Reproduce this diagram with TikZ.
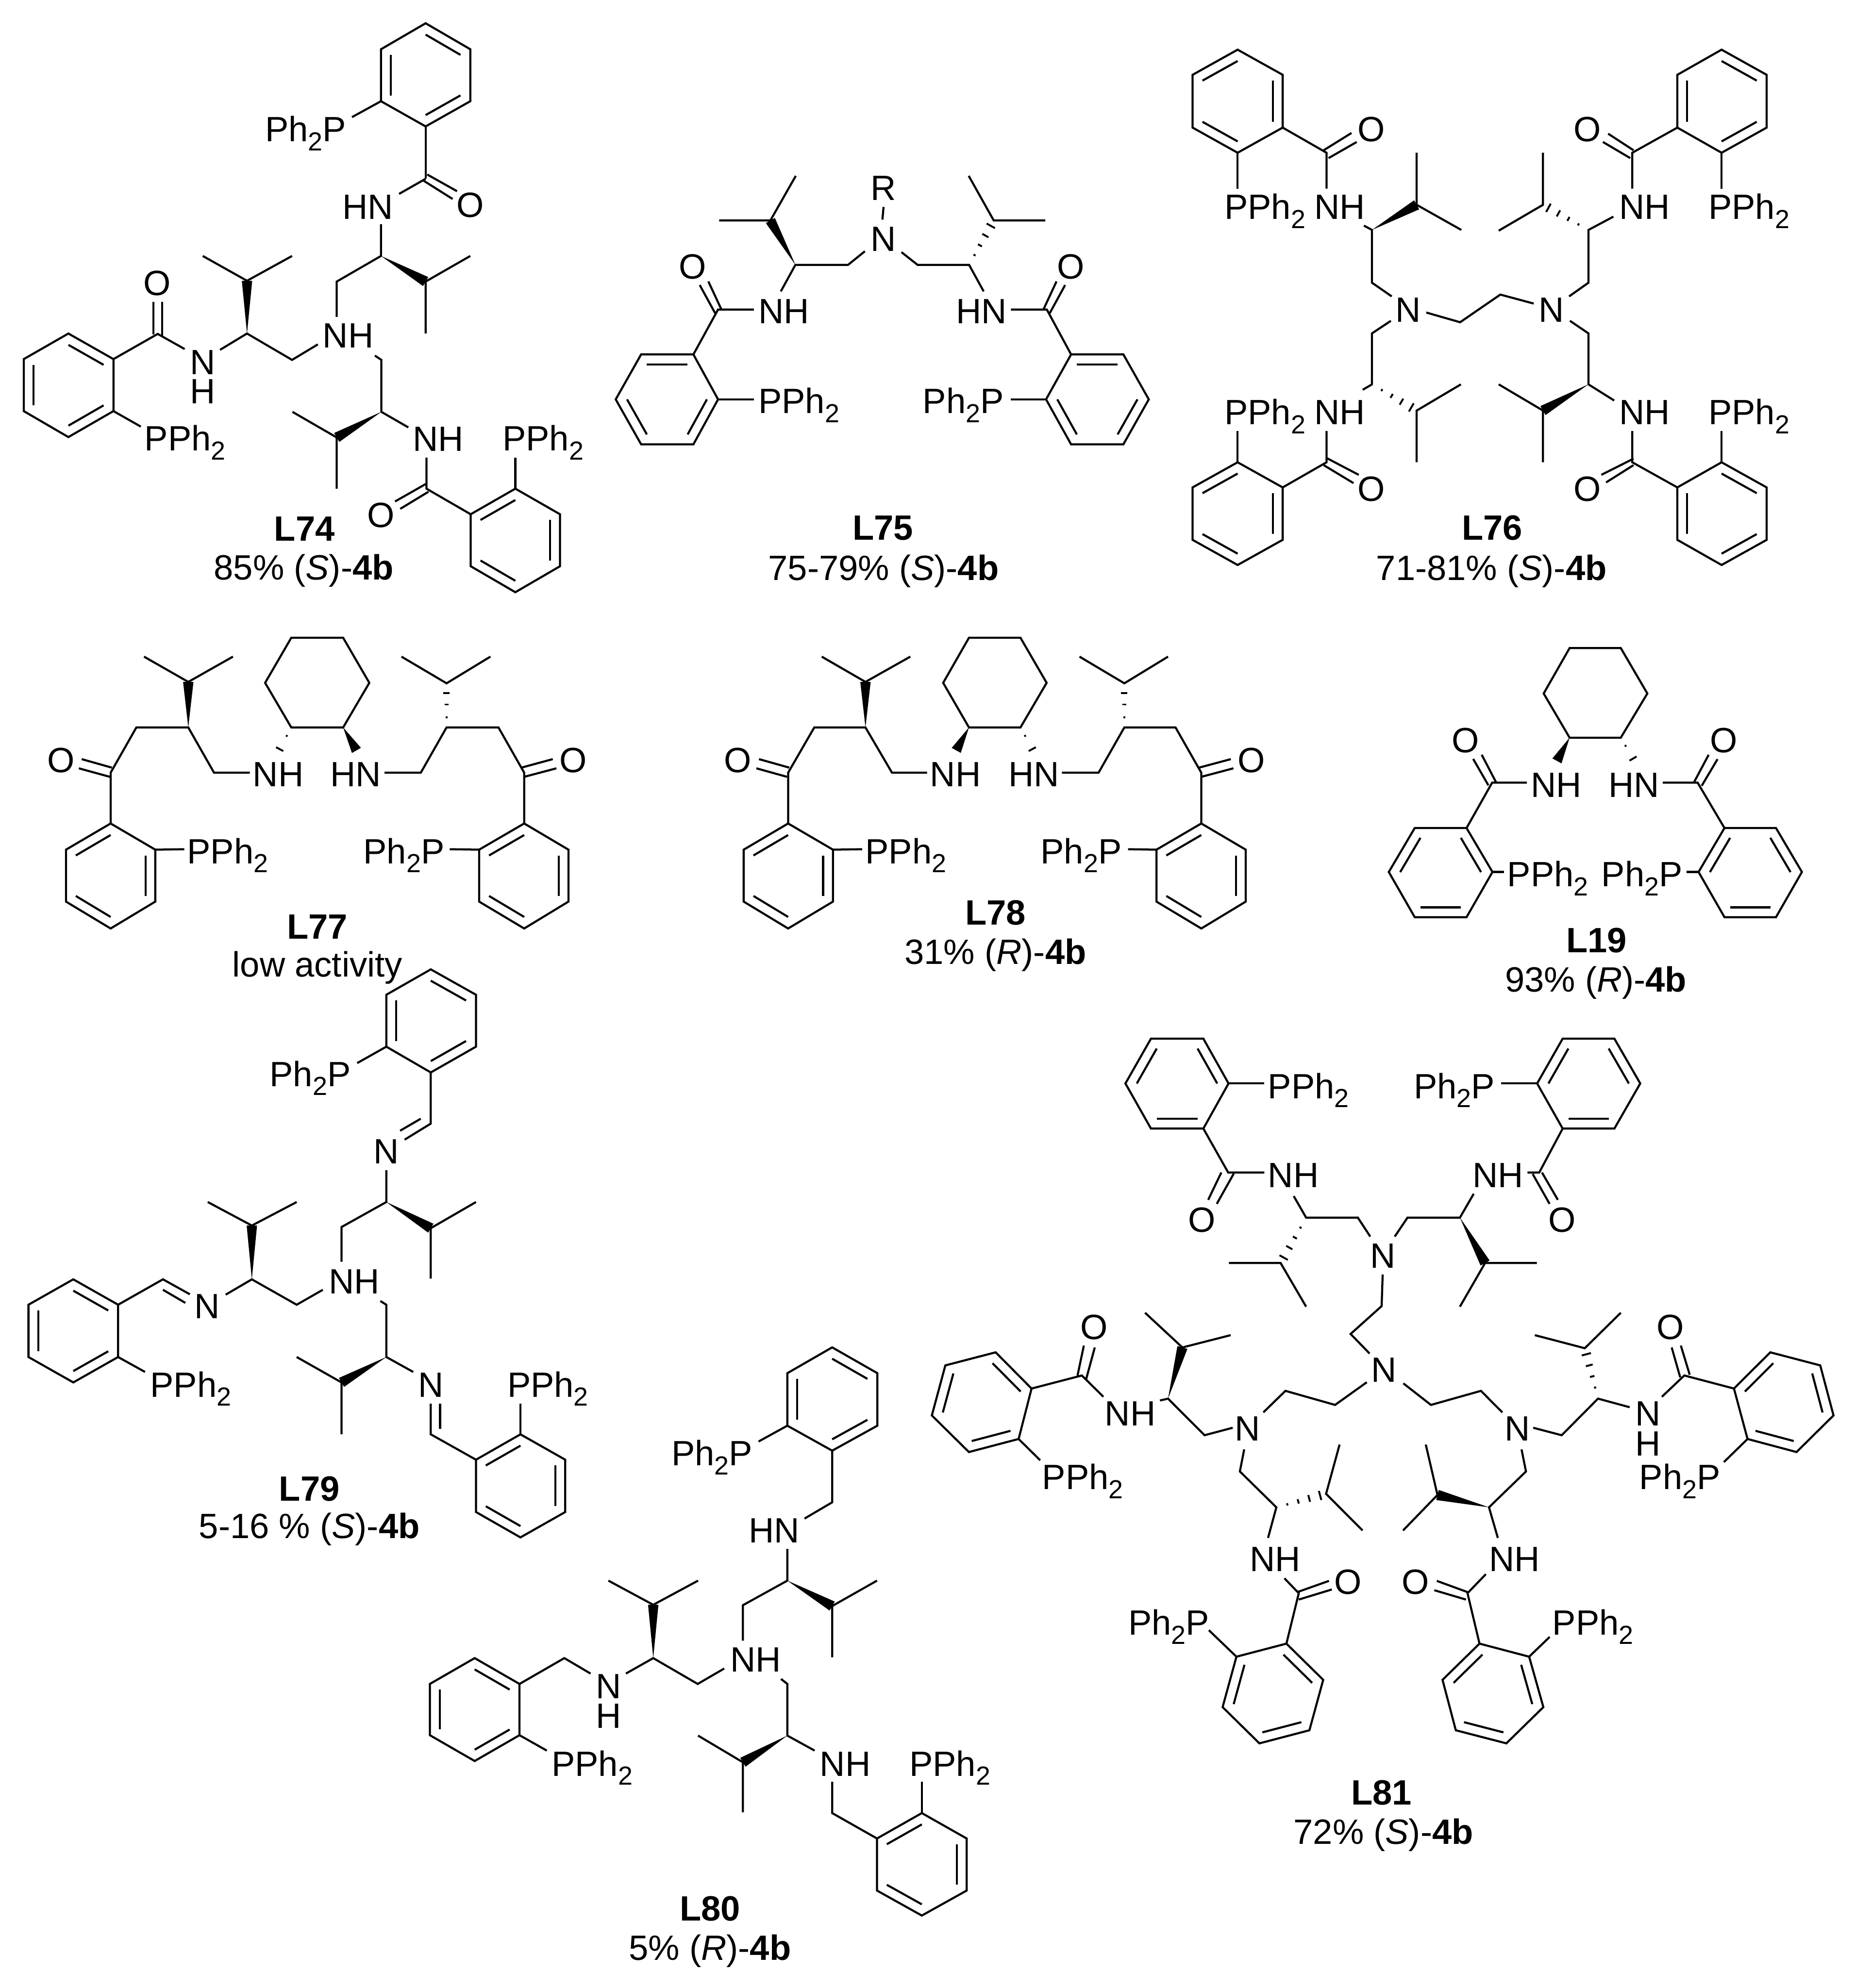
\documentclass[tikz,border=0pt]{standalone}
\usepackage{fontspec}
\setmainfont{Liberation Sans}
\usetikzlibrary{calc}
\newcounter{lblno}
\newcommand\tw{\raisebox{-2pt}{\fontsize{5.8}{6}\selectfont 2}}
\newcommand\pph{PPh\tw}
\newcommand\php{Ph\tw P}
\tikzset{
  bond/.style={line width=0.46pt,line join=miter,line cap=butt},
  hashl/.style={line width=0.42pt},
  atom/.style={anchor=base west,inner sep=0pt,outer sep=0pt,xshift=-0.5pt,font=\fontsize{7.8}{9}\selectfont},
  capt/.style={anchor=base,inner sep=0pt,outer sep=0pt,font=\fontsize{7.8}{9}\selectfont},
  crop/.style n args={4}{shift={(#1*0.1pt,-#2*0.1pt)},x={0.1pt*#3/1568},y={-0.1pt*#4/1568}},
}
\newcommand\ring[6]{%
  \draw[bond] (#1)--(#2)--(#3)--(#4)--(#5)--(#6)--cycle;
  \coordinate (rc) at ($(#1)!.5!(#4)$);
  \draw[bond] ($(#1)!.22!(rc)$)--($(#2)!.22!(rc)$);
  \draw[bond] ($(#3)!.22!(rc)$)--($(#4)!.22!(rc)$);
  \draw[bond] ($(#5)!.22!(rc)$)--($(#6)!.22!(rc)$);
}
\newcommand\lbl[3]{\stepcounter{lblno}\node[atom] (a\thelblno) at (#1,#2) {#3};}
\newcommand\capl[3]{\stepcounter{lblno}\node[capt] (a\thelblno) at (#1,#2) {#3};}
\newcommand\wdg[2]{\fill[black] (#1)--($(#2)!1.15pt!90:(#1)$)--($(#2)!1.15pt!-90:(#1)$)--cycle;}
\def\hfour{.22/.25,.44/.5,.66/.78,.88/1.05}
\def\hthree{.23/.2,.52/.42,.78/.7}
\def\htwo{.35/.2,.9/.9}
\newcommand\hsh[3]{\foreach \t/\h in #3 {\draw[hashl] ($(#1)!\t!(#2)!\h pt!90:(#2)$)--($(#1)!\t!(#2)!\h pt!-90:(#2)$);}}
\begin{document}
\begin{tikzpicture}
\useasboundingbox (0,0) rectangle (411.6pt,-441.3pt);
\fill[white] (0,0) rectangle (411.6pt,-441.3pt);

% ===== L74
\begin{scope}[crop={0}{0}{1400}{1350}]
\ring{1058,60}{1169,127}{1169,261}{1058,326}{947,261}{947,127}
\draw[bond] (947,261)--(875,302);
\lbl{665}{365}{\php}
\draw[bond] (1058,326)--(1058,461);
\draw[bond] (1062,450)--(1136,493);
\draw[bond] (1053,466)--(1125,513);
\draw[bond] (1058,461)--(992,500);
\lbl{1140}{560}{O}
\lbl{857}{565}{HN}
\draw[bond] (947,578)--(947,660)--(837,726)--(837,817);
\wdg{947,660}{1058,726}
\draw[bond] (1169,660)--(1058,726)--(1058,860);
\lbl{808}{897}{NH}
\draw[bond] (790,888)--(726,928)--(614,860)--(547,902);
\wdg{614,860}{614,724}
\draw[bond] (504,660)--(614,724)--(726,660);
\lbl{478}{965}{N}
\lbl{478}{1040}{H}
\draw[bond] (459,900)--(392,861)--(282,926);
\draw[bond] (381,778)--(381,862);
\draw[bond] (403,778)--(403,866);
\lbl{362}{762}{O}
\ring{282,926}{170,860}{59,926}{59,1060}{170,1127}{282,1060}
\draw[bond] (282,1060)--(350,1100);
\lbl{365}{1162}{\pph}
\draw[bond] (932,917)--(948,928)--(948,1062)--(1015,1102);
\wdg{948,1062}{837,1128}
\draw[bond] (727,1062)--(837,1128)--(837,1260);
\lbl{1032}{1163}{NH}
\draw[bond] (1060,1180)--(1060,1260)--(1170,1326);
\draw[bond] (1060,1247)--(982,1293);
\draw[bond] (1065,1268)--(995,1312);
\lbl{918}{1360}{O}
\ring{1170,1326}{1281,1260}{1392,1326}{1392,1460}{1281,1527}{1170,1460}
\draw[bond] (1281,1260)--(1281,1180);
\lbl{1255}{1162}{\pph}
\capl{757}{1395}{\textbf{L74}}
\capl{755}{1495}{85\% (\textit{S})-\textbf{4b}}
\end{scope}

% ===== L75
\begin{scope}[crop={1300}{300}{1300}{1050}]
\draw[bond] (357,283)--(494,283)--(562,135);
\wdg{561,430}{494,283}
\draw[bond] (522,518)--(561,430)--(702,430)--(747,385);
\lbl{768}{385}{N}
\lbl{768}{215}{R}
\draw[bond] (797,238)--(794,280);
\draw[bond] (845,388)--(888,430)--(1026,430)--(1065,518);
\hsh{1026,430}{1092,283}{\hfour}
\draw[bond] (1025,135)--(1092,283)--(1230,283);
\lbl{997}{625}{HN}
\draw[bond] (1138,578)--(1234,578)--(1299,727);
\draw[bond] (1225,578)--(1260,485);
\draw[bond] (1242,590)--(1283,497);
\lbl{1268}{477}{O}
\ring{1299,727}{1439,727}{1507,876}{1439,1025}{1299,1025}{1232,876}
\draw[bond] (1232,876)--(1137,876);
\lbl{908}{922}{\php}
\lbl{468}{625}{NH}
\draw[bond] (450,578)--(354,578)--(288,727);
\draw[bond] (363,578)--(328,485);
\draw[bond] (346,590)--(305,497);
\lbl{255}{477}{O}
\ring{288,727}{148,727}{80,876}{148,1025}{288,1025}{354,876}
\draw[bond] (354,876)--(450,876);
\lbl{468}{922}{\pph}
\capl{795}{1342}{\textbf{L75}}
\capl{797}{1475}{75-79\% (\textit{S})-\textbf{4b}}
\end{scope}

% ===== L76
\begin{scope}[crop={2600}{80}{1400}{1250}]
\ring{164,38}{52,108}{52,255}{164,325}{276,255}{276,108}
\draw[bond] (164,325)--(164,425);
\lbl{137}{510}{\pph}
\draw[bond] (276,255)--(385,325)--(385,425);
\draw[bond] (378,318)--(447,270);
\draw[bond] (390,340)--(460,295);
\lbl{468}{293}{O}
\lbl{360}{510}{NH}
\draw[bond] (478,528)--(498,540)--(498,687)--(547,725);
\wdg{498,540}{609,470}
\draw[bond] (609,325)--(609,470)--(720,540);
\lbl{562}{797}{N}
\draw[bond] (633,770)--(717,797)--(817,720)--(900,745);
\lbl{918}{797}{N}
\draw[bond] (988,725)--(1036,687)--(1036,540)--(1098,503);
\lbl{1118}{510}{NH}
\hsh{1036,540}{923,470}{\hfour}
\draw[bond] (923,325)--(923,470)--(813,542);
\draw[bond] (1145,425)--(1145,325)--(1257,255);
\draw[bond] (1148,318)--(1085,272);
\draw[bond] (1140,340)--(1072,295);
\lbl{1005}{293}{O}
\ring{1367,38}{1479,108}{1479,255}{1367,325}{1257,255}{1257,108}
\draw[bond] (1367,325)--(1367,425);
\lbl{1340}{510}{\pph}
\draw[bond] (545,793)--(498,828)--(498,970)--(475,985);
\hsh{498,970}{609,1043}{\hfour}
\draw[bond] (719,970)--(609,1043)--(609,1187);
\lbl{360}{1082}{NH}
\lbl{137}{1082}{\pph}
\draw[bond] (385,1100)--(385,1187)--(276,1257);
\draw[bond] (164,1100)--(164,1187);
\ring{164,1187}{52,1257}{52,1403}{164,1473}{276,1403}{276,1257}
\draw[bond] (385,1175)--(465,1222);
\draw[bond] (378,1195)--(452,1245);
\lbl{468}{1295}{O}
\draw[bond] (990,793)--(1036,828)--(1036,970)--(1100,1015);
\wdg{1036,970}{923,1043}
\draw[bond] (813,970)--(923,1043)--(923,1187);
\lbl{1118}{1082}{NH}
\draw[bond] (1145,1100)--(1145,1187)--(1257,1257);
\draw[bond] (1148,1177)--(1068,1222);
\draw[bond] (1148,1195)--(1080,1243);
\lbl{1005}{1295}{O}
\ring{1367,1187}{1479,1257}{1479,1403}{1367,1473}{1257,1403}{1257,1257}
\draw[bond] (1367,1187)--(1367,1100);
\lbl{1340}{1082}{\pph}
\capl{797}{1403}{\textbf{L76}}
\capl{795}{1515}{71-81\% (\textit{S})-\textbf{4b}}
\end{scope}

% ===== L77
\begin{scope}[crop={50}{1380}{1400}{800}]
\draw[bond] (668,70)--(797,70)--(862,266)--(797,460)--(668,460)--(603,266)--cycle;
\wdg{797,460}{830,560}
\hsh{668,460}{636,565}{\htwo}
\draw[bond] (302,152)--(412,262)--(523,152);
\wdg{412,460}{412,262}
\draw[bond] (219,878)--(219,657)--(283,460)--(412,460)--(476,657)--(565,657);
\lbl{578}{717}{NH}
\draw[bond] (222,635)--(147,598);
\draw[bond] (217,675)--(140,638);
\lbl{67}{655}{O}
\ring{219,878}{108,992}{108,1218}{219,1335}{330,1218}{330,992}
\draw[bond] (330,992)--(402,990);
\lbl{415}{1052}{\pph}
\lbl{771}{717}{HN}
\draw[bond] (900,657)--(990,657)--(1054,460)--(1183,460)--(1247,657)--(1247,878);
\hsh{1054,460}{1054,268}{\hthree}
\draw[bond] (942,152)--(1054,268)--(1163,152);
\draw[bond] (1240,635)--(1318,598);
\draw[bond] (1247,675)--(1327,638);
\lbl{1340}{655}{O}
\ring{1247,878}{1135,992}{1135,1218}{1247,1335}{1357,1218}{1357,992}
\draw[bond] (1135,992)--(1062,990);
\lbl{853}{1052}{\php}
\capl{733}{1380}{\textbf{L77}}
\capl{733}{1545}{low activity}
\end{scope}

% ===== L78
\begin{scope}[crop={1550}{1380}{1300}{800}]
\draw[bond] (724,70)--(862,70)--(932,266)--(862,460)--(724,460)--(655,266)--cycle;
\wdg{724,460}{690,560}
\hsh{862,460}{897,565}{\htwo}
\draw[bond] (330,152)--(447,262)--(567,152);
\wdg{447,460}{447,262}
\draw[bond] (240,878)--(240,657)--(310,460)--(447,460)--(518,657)--(612,657);
\lbl{626}{717}{NH}
\lbl{836}{717}{HN}
\draw[bond] (973,657)--(1071,657)--(1140,460)--(1277,460)--(1346,657)--(1346,878);
\hsh{1140,460}{1140,268}{\hthree}
\draw[bond] (1020,152)--(1140,268)--(1257,152);
\draw[bond] (243,635)--(162,598);
\draw[bond] (237,675)--(155,638);
\lbl{75}{655}{O}
\ring{240,878}{121,992}{121,1218}{240,1335}{360,1218}{360,992}
\draw[bond] (360,992)--(438,990);
\lbl{453}{1052}{\pph}
\draw[bond] (1340,635)--(1425,598);
\draw[bond] (1346,675)--(1432,638);
\lbl{1450}{655}{O}
\ring{1346,878}{1226,992}{1226,1218}{1346,1335}{1465,1218}{1465,992}
\draw[bond] (1226,992)--(1150,990);
\lbl{922}{1052}{\php}
\capl{795}{1320}{\textbf{L78}}
\capl{795}{1490}{31\% (\textit{R})-\textbf{4b}}
\end{scope}

% ===== L19
\begin{scope}[crop={2950}{1380}{1100}{850}]
\draw[bond] (760,108)--(922,108)--(1006,294)--(922,475)--(760,475)--(678,294)--cycle;
\wdg{760,475}{720,570}
\hsh{922,475}{965,570}{\htwo}
\lbl{645}{718}{NH}
\lbl{890}{718}{HN}
\draw[bond] (625,659)--(515,659)--(434,845);
\draw[bond] (503,670)--(455,562);
\draw[bond] (528,659)--(482,545);
\lbl{395}{535}{O}
\ring{270,845}{188,1025}{270,1210}{434,1210}{516,1025}{434,845}
\draw[bond] (516,1025)--(552,1025);
\lbl{570}{1085}{\pph}
\draw[bond] (1055,659)--(1165,659)--(1250,845);
\draw[bond] (1153,659)--(1200,545);
\draw[bond] (1178,672)--(1228,563);
\lbl{1212}{535}{O}
\ring{1413,845}{1495,1025}{1413,1210}{1250,1210}{1168,1025}{1250,845}
\draw[bond] (1168,1025)--(1130,1025);
\lbl{868}{1085}{\php}
\capl{845}{1355}{\textbf{L19}}
\capl{843}{1515}{93\% (\textit{R})-\textbf{4b}}
\end{scope}

% ===== L79
\begin{scope}[crop={30}{2150}{1300}{1300}]
\ring{1117,2}{1238,70}{1238,209}{1117,278}{998,209}{998,70}
\draw[bond] (998,209)--(920,253);
\lbl{692}{315}{\php}
\draw[bond] (1117,278)--(1117,415)--(1047,458);
\draw[bond] (1090,402)--(1035,434);
\lbl{970}{522}{N}
\draw[bond] (998,540)--(998,625)--(878,692)--(878,785);
\wdg{998,625}{1117,695}
\draw[bond] (1238,625)--(1117,695)--(1117,830);
\lbl{850}{870}{NH}
\draw[bond] (828,860)--(758,900)--(638,832)--(568,873);
\wdg{638,832}{638,688}
\draw[bond] (520,625)--(638,688)--(758,625);
\lbl{490}{937}{N}
\draw[bond] (472,872)--(400,832)--(280,900);
\draw[bond] (400,860)--(460,895);
\ring{280,900}{160,832}{40,900}{40,1040}{160,1108}{280,1040}
\draw[bond] (280,1040)--(352,1080);
\lbl{372}{1147}{\pph}
\draw[bond] (982,890)--(998,900)--(998,1040)--(1070,1080);
\wdg{998,1040}{878,1108}
\draw[bond] (758,1040)--(878,1108)--(878,1247);
\lbl{1090}{1147}{N}
\draw[bond] (1117,1165)--(1117,1247)--(1238,1315);
\draw[bond] (1142,1165)--(1142,1232);
\ring{1238,1315}{1357,1247}{1477,1315}{1477,1455}{1357,1523}{1238,1455}
\draw[bond] (1357,1247)--(1357,1165);
\lbl{1328}{1147}{\pph}
\capl{792}{1425}{\textbf{L79}}
\capl{792}{1525}{5-16 \% (\textit{S})-\textbf{4b}}
\end{scope}

% ===== L80
\begin{scope}[crop={900}{2950}{1300}{1450}]
\ring{1142,44}{1263,106}{1263,232}{1142,292}{1022,232}{1022,106}
\draw[bond] (1022,232)--(945,270);
\lbl{718}{328}{\php}
\draw[bond] (1142,292)--(1142,416)--(1068,455);
\lbl{925}{513}{HN}
\draw[bond] (1022,528)--(1022,604)--(903,663)--(903,748);
\wdg{1022,604}{1142,665}
\draw[bond] (1262,604)--(1142,665)--(1142,788);
\lbl{875}{823}{NH}
\draw[bond] (853,815)--(782,852)--(663,790)--(590,827);
\wdg{663,790}{663,662}
\draw[bond] (543,604)--(663,662)--(783,604);
\lbl{515}{887}{N}
\lbl{515}{958}{H}
\draw[bond] (495,827)--(425,790)--(305,852);
\ring{305,852}{185,790}{65,852}{65,975}{185,1037}{305,975}
\draw[bond] (305,975)--(378,1012);
\lbl{397}{1073}{\pph}
\draw[bond] (1005,840)--(1022,852)--(1022,976)--(1095,1012);
\wdg{1022,976}{903,1040}
\draw[bond] (783,976)--(903,1040)--(903,1160);
\lbl{1115}{1073}{NH}
\draw[bond] (1142,1087)--(1142,1162)--(1262,1223);
\ring{1262,1223}{1382,1162}{1502,1223}{1502,1348}{1382,1408}{1262,1348}
\draw[bond] (1382,1162)--(1382,1087);
\lbl{1355}{1073}{\pph}
\capl{815}{1420}{\textbf{L80}}
\capl{815}{1515}{5\% (\textit{R})-\textbf{4b}}
\end{scope}

% ===== L81 top
\begin{scope}[crop={2450}{2250}{1200}{1000}]
\ring{136,87}{62,243}{136,400}{288,400}{361,243}{288,87}
\draw[bond] (361,243)--(465,243);
\lbl{482}{295}{\pph}
\draw[bond] (288,400)--(360,553)--(465,553);
\draw[bond] (340,553)--(302,648);
\draw[bond] (376,557)--(327,662);
\lbl{250}{760}{O}
\lbl{482}{605}{NH}
\draw[bond] (550,635)--(586,710)--(736,710)--(772,776);
\hsh{586,710}{512,868}{\hfour}
\draw[bond] (362,868)--(512,868)--(586,1020);
\lbl{778}{886}{N}
\draw[bond] (843,776)--(880,710)--(1032,710)--(1072,627);
\lbl{1075}{605}{NH}
\draw[bond] (1228,553)--(1262,553)--(1330,400);
\draw[bond] (1243,558)--(1292,662);
\draw[bond] (1270,553)--(1316,648);
\lbl{1295}{760}{O}
\ring{1330,400}{1480,400}{1555,243}{1480,87}{1330,87}{1256,243}
\draw[bond] (1256,243)--(1152,243);
\lbl{905}{295}{\php}
\wdg{1032,710}{1105,868}
\draw[bond] (1255,868)--(1105,868)--(1032,1020);
\draw[bond] (808,908)--(805,1018)--(715,1115)--(770,1183);
\lbl{782}{1283}{N}
\draw[bond] (762,1283)--(670,1362)--(526,1313)--(462,1388);
\draw[bond] (868,1287)--(948,1362)--(1093,1313)--(1155,1388);
\end{scope}

% ===== L81 lower left
\begin{scope}[crop={2050}{2850}{1000}{1300}]
\ring{375,280}{250,183}{75,218}{28,352}{157,450}{330,415}
\draw[bond] (330,415)--(405,472);
\lbl{420}{550}{\pph}
\draw[bond] (375,280)--(550,245)--(625,302);
\draw[bond] (535,245)--(557,165);
\draw[bond] (565,255)--(595,170);
\lbl{553}{148}{O}
\lbl{638}{380}{NH}
\draw[bond] (822,312)--(850,307)--(977,405)--(1075,385);
\wdg{850,307}{900,170}
\draw[bond] (770,77)--(900,170)--(1068,137);
\lbl{1090}{420}{N}
\draw[bond] (1115,443)--(1100,502)--(1227,598)--(1198,680);
\hsh{1227,598}{1400,562}{\hfour}
\draw[bond] (1447,430)--(1400,562)--(1527,660);
\lbl{1142}{770}{NH}
\draw[bond] (1255,788)--(1305,828)--(1262,963);
\draw[bond] (1300,825)--(1410,795);
\draw[bond] (1305,845)--(1420,818);
\lbl{1437}{830}{O}
\ring{1088,998}{1040,1133}{1168,1230}{1342,1195}{1390,1060}{1262,963}
\draw[bond] (1088,998)--(992,927);
\lbl{720}{940}{\php}
\end{scope}

% ===== L81 lower right
\begin{scope}[crop={2950}{2850}{1100}{1300}]
\lbl{562}{420}{N}
\draw[bond] (645,385)--(735,405)--(850,307)--(950,330);
\lbl{975}{380}{N}
\lbl{975}{460}{H}
\hsh{850,307}{808,172}{\hfour}
\draw[bond] (650,137)--(808,172)--(922,77);
\draw[bond] (1052,302)--(1123,245)--(1280,280);
\draw[bond] (1110,250)--(1083,170);
\draw[bond] (1140,243)--(1112,165);
\lbl{1042}{148}{O}
\ring{1280,280}{1395,183}{1553,218}{1595,352}{1478,450}{1323,415}
\draw[bond] (1323,415)--(1248,477);
\lbl{988}{550}{\php}
\draw[bond] (608,443)--(622,502)--(505,598)--(533,680);
\wdg{505,598}{342,565}
\draw[bond] (305,430)--(342,565)--(233,660);
\lbl{513}{770}{NH}
\draw[bond] (495,777)--(437,828)--(475,963);
\draw[bond] (437,825)--(340,795);
\draw[bond] (432,845)--(332,820);
\lbl{237}{830}{O}
\ring{475,963}{358,1060}{400,1195}{560,1230}{677,1133}{632,998}
\draw[bond] (632,998)--(697,945);
\lbl{713}{940}{\pph}
\capl{165}{1395}{\textbf{L81}}
\capl{171}{1500}{72\% (\textit{S})-\textbf{4b}}
\end{scope}
\end{tikzpicture}
\end{document}
